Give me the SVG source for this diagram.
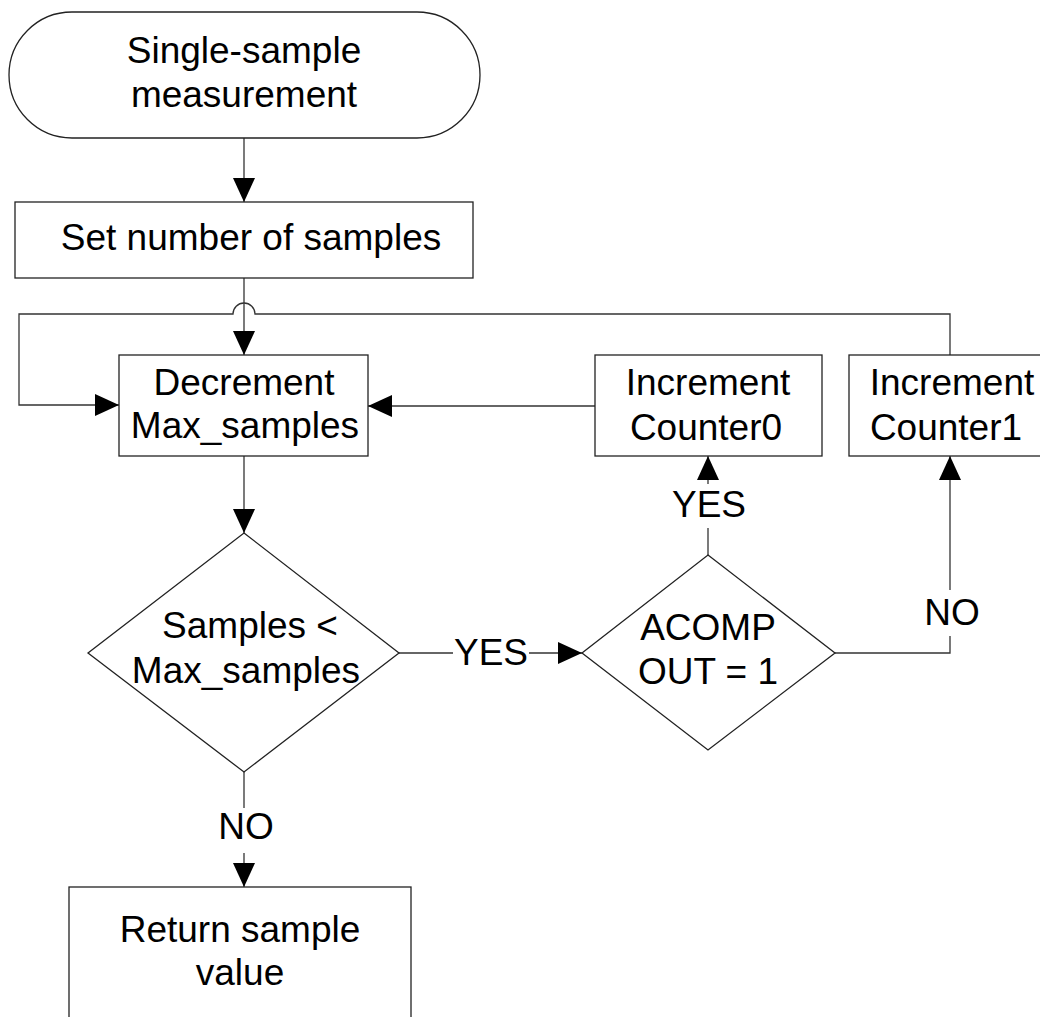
<svg xmlns="http://www.w3.org/2000/svg" width="1040" height="1017" viewBox="0 0 1040 1017">
<style>
.shape{fill:#fff;stroke:#222;stroke-width:1.3}
.conn{fill:none;stroke:#333;stroke-width:1.3}
text{font-family:"Liberation Sans",Arial,Helvetica,sans-serif;font-size:37px;fill:#000;text-anchor:middle}
</style>
<defs>
<marker id="ah" viewBox="0 0 24 22" refX="24" refY="11" markerWidth="24" markerHeight="22" markerUnits="userSpaceOnUse" orient="auto">
<path d="M0,0 L24,11 L0,22 Z" fill="#000"/>
</marker>
</defs>
<rect width="1040" height="1017" fill="#fff"/>
<g id="connectors">
<path class="conn" d="M244,138 V202" marker-end="url(#ah)"/>
<path class="conn" d="M244,278 V355" marker-end="url(#ah)"/>
<path class="conn" d="M950,355 V314 H255 A11,11 0 0 0 233,314 H19 V405 H119" marker-end="url(#ah)"/>
<path class="conn" d="M595,406 H368" marker-end="url(#ah)"/>
<path class="conn" d="M244,456 V533" marker-end="url(#ah)"/>
<path class="conn" d="M399,653 H453"/>
<path class="conn" d="M529,653 H582" marker-end="url(#ah)"/>
<path class="conn" d="M708,555 V528"/>
<path class="conn" d="M708,484 V456" marker-end="url(#ah)"/>
<path class="conn" d="M835,653 H950 V636"/>
<path class="conn" d="M950,590 V456" marker-end="url(#ah)"/>
<path class="conn" d="M244,772 V808"/>
<path class="conn" d="M244,853 V887" marker-end="url(#ah)"/>
<text x="491" y="665">YES</text>
<text x="709" y="517">YES</text>
<text x="952" y="625">NO</text>
<text x="246" y="839">NO</text>
</g>
<g id="start">
<rect class="shape" x="9" y="12" width="471" height="126" rx="63" ry="63"/>
<text x="244" y="63">Single-sample</text>
<text x="244" y="107">measurement</text>
</g>
<g id="set-samples">
<rect class="shape" x="15" y="202" width="458" height="76"/>
<text x="251" y="250">Set number of samples</text>
</g>
<g id="decrement">
<rect class="shape" x="119" y="355" width="249" height="101"/>
<text x="244" y="395">Decrement</text>
<text x="245" y="438">Max_samples</text>
</g>
<g id="increment0">
<rect class="shape" x="595" y="355" width="227" height="101"/>
<text x="708" y="395">Increment</text>
<text x="706" y="440">Counter0</text>
</g>
<g id="increment1">
<rect class="shape" x="849" y="355" width="210" height="101"/>
<text x="952" y="395">Increment</text>
<text x="946" y="440">Counter1</text>
</g>
<g id="decision-samples">
<polygon class="shape" points="244,533 399,653 244,772 88,653"/>
<text x="250" y="638">Samples &lt;</text>
<text x="246" y="683">Max_samples</text>
</g>
<g id="decision-acomp">
<polygon class="shape" points="708,555 835,653 708,750 582,653"/>
<text x="708" y="640">ACOMP</text>
<text x="708" y="684">OUT = 1</text>
</g>
<g id="return">
<rect class="shape" x="69" y="887" width="342" height="150"/>
<text x="240" y="942">Return sample</text>
<text x="240" y="985">value</text>
</g>
</svg>
